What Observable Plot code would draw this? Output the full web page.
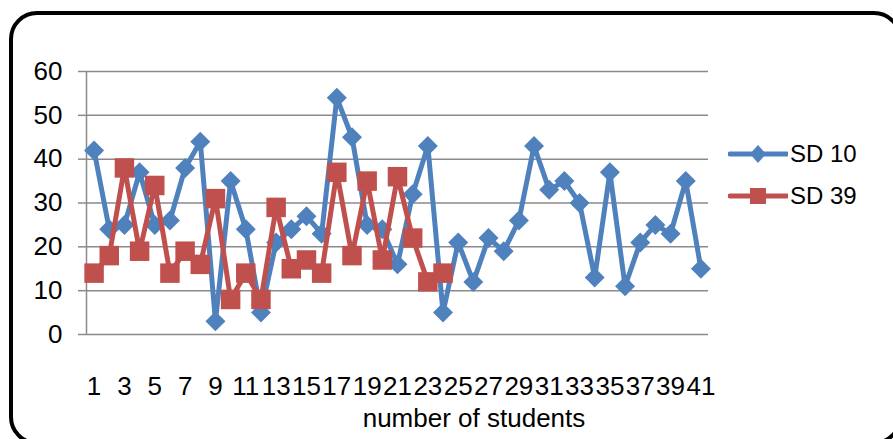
<!DOCTYPE html>
<html>
<head>
<meta charset="utf-8">
<script src="https://cdn.jsdelivr.net/npm/d3@7"></script>
<script src="https://cdn.jsdelivr.net/npm/@observablehq/plot@0.6"></script>
<style>
  html, body { margin: 0; padding: 0; background: #fff; }
  body { width: 893px; height: 439px; position: relative; overflow: hidden;
         font-family: "Liberation Sans", Arial, sans-serif; }
  #frame { position: absolute; left: 9px; top: 11px; width: 885px; height: 426px;
           border: 4px solid #000; border-radius: 28px; pointer-events: none; }
  #chart { position: absolute; left: 0; top: 0; }
  #xtitle { position: absolute; left: 324px; width: 300px; top: 405px; text-align: center;
            font-size: 26px; line-height: 26px; color: #000; }
  .leg { position: absolute; left: 728px; height: 30px; display: flex; align-items: center;
         font-size: 24px; color: #000; }
  .leg svg { display: block; }
  .leg span { margin-left: 2px; }
</style>
</head>
<body>
<div id="chart"></div>
<div id="xtitle">number of students</div>
<div class="leg" id="leg10" style="top:139px"></div>
<div class="leg" id="leg39" style="top:181px"></div>
<div id="frame"></div>
<script>
const students = [1,2,3,4,5,6,7,8,9,10,11,12,13,14,15,16,17,18,19,20,21,22,23,24,25,26,27,28,29,30,31,32,33,34,35,36,37,38,39,40,41];
const sd10 = [42,24,25,37,25,26,38,44,3,35,24,5,21,24,27,23,54,45,25,24,16,32,43,5,21,12,22,19,26,43,33,35,30,13,37,11,21,25,23,35,15];
const sd39 = [14,18,38,19,34,14,19,16,31,8,14,8,29,15,17,14,37,18,35,17,36,22,12,14];
const xTickLabels = [1,3,5,7,9,11,13,15,17,19,21,23,25,27,29,31,33,35,37,39,41];
const yTicks = [0,10,20,30,40,50,60];
const seriesNames = ["SD 10", "SD 39"];
const colors = ["#4F81BD", "#C0504D"];

const data10 = sd10.map((v, i) => ({student: students[i], value: v}));
const data39 = sd39.map((v, i) => ({student: students[i], value: v}));

const font = "'Liberation Sans', Arial, sans-serif";
const chart = Plot.plot({
  width: 893,
  height: 439,
  marginLeft: 86,
  marginRight: 185,
  marginTop: 71,
  marginBottom: 105,
  style: {fontFamily: font, fontSize: "26px", background: "transparent", overflow: "visible"},
  x: {type: "linear", domain: [0.5, 41.5], axis: null},
  y: {domain: [0, 60], axis: null},
  marks: [
    Plot.ruleY(yTicks, {stroke: "#8a8a8a", strokeWidth: 1.5}),
    Plot.ruleX([0.5], {stroke: "#8a8a8a", strokeWidth: 1.5}),
    Plot.axisY({ticks: yTicks, tickSize: 8, tickPadding: 16, stroke: "#8a8a8a", strokeWidth: 1.5,
                fill: "#000", fontSize: 26, label: null, tickFormat: d => String(d)}),
    Plot.axisX({ticks: xTickLabels, tickSize: 0, tickPadding: 42, fill: "#000", fontSize: 26,
                label: null, tickFormat: d => String(d)}),
    Plot.line(data10, {x: "student", y: "value", stroke: colors[0], strokeWidth: 5, strokeLinejoin: "round"}),
    Plot.dot(data10, {x: "student", y: "value", symbol: "diamond2", r: 9, fill: colors[0], stroke: null}),
    Plot.line(data39, {x: "student", y: "value", stroke: colors[1], strokeWidth: 5, strokeLinejoin: "round"}),
    Plot.dot(data39, {x: "student", y: "value", symbol: "square", r: 11, fill: colors[1], stroke: null})
  ]
});
document.getElementById("chart").appendChild(chart);

function legendItem(id, name, color, shape) {
  const el = document.getElementById(id);
  const ns = "http://www.w3.org/2000/svg";
  const svg = document.createElementNS(ns, "svg");
  svg.setAttribute("width", 60); svg.setAttribute("height", 30);
  const line = document.createElementNS(ns, "line");
  line.setAttribute("x1", 2); line.setAttribute("x2", 59);
  line.setAttribute("y1", 15); line.setAttribute("y2", 15);
  line.setAttribute("stroke", color); line.setAttribute("stroke-width", 5);
  line.setAttribute("stroke-linecap", "round");
  svg.appendChild(line);
  const p = document.createElementNS(ns, "path");
  if (shape === "diamond") p.setAttribute("d", "M30,6L38,15L30,24L22,15Z");
  else p.setAttribute("d", "M22,7H38V23H22Z");
  p.setAttribute("fill", color);
  svg.appendChild(p);
  el.appendChild(svg);
  const s = document.createElement("span");
  s.textContent = name;
  el.appendChild(s);
}
legendItem("leg10", seriesNames[0], colors[0], "diamond");
legendItem("leg39", seriesNames[1], colors[1], "square");
</script>
</body>
</html>
